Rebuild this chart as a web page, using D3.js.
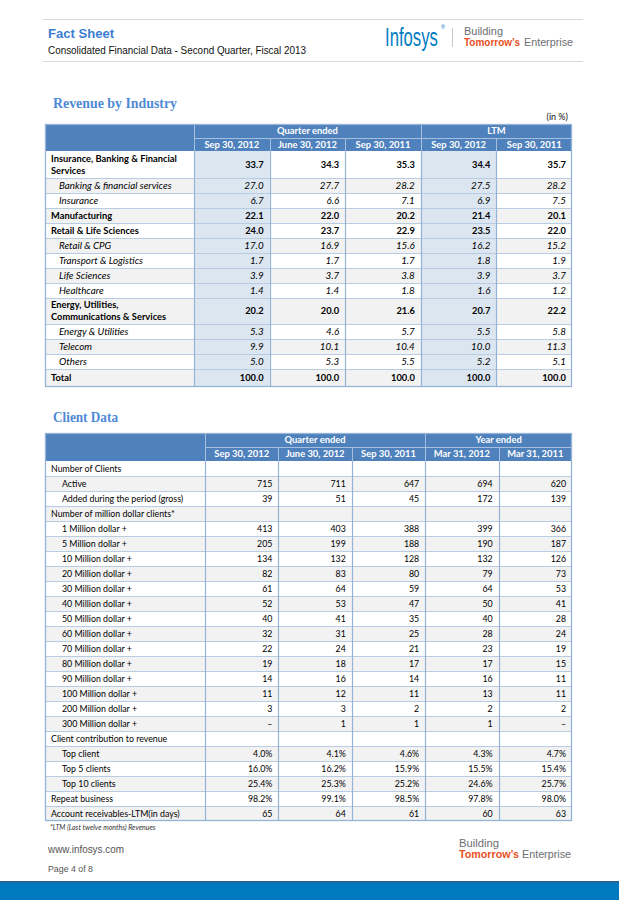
<!DOCTYPE html>
<html><head><meta charset="utf-8">
<script src="https://cdn.jsdelivr.net/npm/d3@7/dist/d3.min.js"></script>
<style>body{margin:0;background:#fff}svg{display:block}</style>
</head><body><svg id="c" width="619" height="900"></svg>
<script>
// ---------- DATA ----------
const revGroups = ["Quarter ended", "LTM"];
const revGroupSpan = [3, 2];
const revPeriods = ["Sep 30, 2012", "June 30, 2012", "Sep 30, 2011", "Sep 30, 2012", "Sep 30, 2011"];
const revRows = [
  "Insurance, Banking & Financial|Services", "Banking & financial services", "Insurance",
  "Manufacturing", "Retail & Life Sciences", "Retail & CPG", "Transport & Logistics",
  "Life Sciences", "Healthcare", "Energy, Utilities,|Communications & Services",
  "Energy & Utilities", "Telecom", "Others", "Total"];
const revRowKind = ["main","sub","sub","main","main","sub","sub","sub","sub","main","sub","sub","sub","main"];
const revQSep2012 = [33.7, 27.0, 6.7, 22.1, 24.0, 17.0, 1.7, 3.9, 1.4, 20.2, 5.3, 9.9, 5.0, 100.0];
const revQJun2012 = [34.3, 27.7, 6.6, 22.0, 23.7, 16.9, 1.7, 3.7, 1.4, 20.0, 4.6, 10.1, 5.3, 100.0];
const revQSep2011 = [35.3, 28.2, 7.1, 20.2, 22.9, 15.6, 1.7, 3.8, 1.8, 21.6, 5.7, 10.4, 5.5, 100.0];
const revLTMSep2012 = [34.4, 27.5, 6.9, 21.4, 23.5, 16.2, 1.8, 3.9, 1.6, 20.7, 5.5, 10.0, 5.2, 100.0];
const revLTMSep2011 = [35.7, 28.2, 7.5, 20.1, 22.0, 15.2, 1.9, 3.7, 1.2, 22.2, 5.8, 11.3, 5.1, 100.0];

const cliGroups = ["Quarter ended", "Year ended"];
const cliGroupSpan = [3, 2];
const cliPeriods = ["Sep 30, 2012", "June 30, 2012", "Sep 30, 2011", "Mar 31, 2012", "Mar 31, 2011"];
const cliRows = [
  "Number of Clients", "Active", "Added during the period (gross)", "Number of million dollar clients*",
  "1 Million dollar +", "5 Million dollar +", "10 Million dollar +", "20 Million dollar +",
  "30 Million dollar +", "40 Million dollar +", "50 Million dollar +", "60 Million dollar +",
  "70 Million dollar +", "80 Million dollar +", "90 Million dollar +", "100 Million dollar +",
  "200 Million dollar +", "300 Million dollar +", "Client contribution to revenue",
  "Top client", "Top 5 clients", "Top 10 clients", "Repeat business", "Account receivables-LTM(in days)"];
const cliRowKind = ["main","sub","sub","main","sub","sub","sub","sub","sub","sub","sub","sub","sub","sub","sub","sub","sub","sub","main","sub","sub","sub","main","main"];
const cliQSep2012 = ["", "715", "39", "", "413", "205", "134", "82", "61", "52", "40", "32", "22", "19", "14", "11", "3", "–", "", "4.0%", "16.0%", "25.4%", "98.2%", "65"];
const cliQJun2012 = ["", "711", "51", "", "403", "199", "132", "83", "64", "53", "41", "31", "24", "18", "16", "12", "3", "1", "", "4.1%", "16.2%", "25.3%", "99.1%", "64"];
const cliQSep2011 = ["", "647", "45", "", "388", "188", "128", "80", "59", "47", "35", "25", "21", "17", "14", "11", "2", "1", "", "4.6%", "15.9%", "25.2%", "98.5%", "61"];
const cliYMar2012 = ["", "694", "172", "", "399", "190", "132", "79", "64", "50", "40", "28", "23", "17", "16", "13", "2", "1", "", "4.3%", "15.5%", "24.6%", "97.8%", "60"];
const cliYMar2011 = ["", "620", "139", "", "366", "187", "126", "73", "53", "41", "28", "24", "19", "15", "11", "11", "2", "–", "", "4.7%", "15.4%", "25.7%", "98.0%", "63"];

// ---------- DRAW ----------
const svg = d3.select("#c");
const TF = "Lato, 'Open Sans', sans-serif";
const AF = "'Liberation Sans', Arial, sans-serif";
const HEAD = "#4F81BD", LINE = "#95B3D7", HLINE = "#B8CCE4", ZEBRA = "#F2F2F2", SHADE = "#DCE6F1";

function txt(x, y, s, o) {
  const t = svg.append("text").attr("x", x).attr("y", y).attr("font-family", o.font || AF)
    .attr("font-size", o.size).attr("fill", o.fill || "#000").text(s);
  if (o.bold) t.attr("font-weight", "bold");
  if (o.italic) t.attr("font-style", "italic");
  if (o.w) t.attr("textLength", o.w).attr("lengthAdjust", "spacingAndGlyphs");
  if (o.anchor) t.attr("text-anchor", o.anchor);
  return t;
}

// page header
svg.append("line").attr("x1",43).attr("x2",583).attr("y1",19.5).attr("y2",19.5).attr("stroke","#D9D9D9");
svg.append("line").attr("x1",43).attr("x2",583).attr("y1",61.5).attr("y2",61.5).attr("stroke","#D9D9D9");
txt(48, 38, "Fact Sheet", {size: 13, bold: true, fill: "#3B7DD0", w: 66});
txt(48, 53.5, "Consolidated Financial Data - Second Quarter, Fiscal 2013", {size: 10, fill: "#111", w: 258});
svg.append("text").attr("transform","translate(385,45.5) scale(1,1.55)").attr("font-family",AF)
  .attr("font-size",16.7).attr("fill","#007CC3").text("Infosys");
txt(441, 29, "®", {size: 5.5, fill: "#007CC3"});
svg.append("line").attr("x1",452.5).attr("x2",452.5).attr("y1",28).attr("y2",47).attr("stroke","#C8C8C8");
function tagline(x, y1, y2, size, wB, wT, xE, wE) {
  txt(x, y1, "Building", {size, fill: "#6D6E71", w: wB});
  txt(x, y2, "Tomorrow’s", {size, fill: "#E8501E", bold: true, w: wT});
  txt(xE, y2, "Enterprise", {size, fill: "#6D6E71", w: wE});
}
tagline(464, 35, 46.3, 10, 39, 56, 524, 49);

// section titles
function title(s, y, w) {
  txt(53, y, s, {font: "'Liberation Serif', 'DejaVu Serif', serif", size: 14.5, bold: true, fill: "#4F8AD6", w});
}
title("Revenue by Industry", 108, 124);
title("Client Data", 422, 65);
txt(568, 120, "(in %)", {font: TF, size: 9, fill: "#111", anchor: "end"});

function drawTable(cfg) {
  const g = svg.append("g");
  const nCol = cfg.periods.length;
  const x = d3.scaleBand().domain(d3.range(nCol)).range([cfg.labelRight, cfg.right]);
  const units = cfg.rowUnits;
  const cum = [0]; units.forEach(u => cum.push(cum[cum.length-1] + u));
  const yU = d3.scaleLinear().domain([0, cum[cum.length-1]]).range([cfg.bodyTop, cfg.bottom]);
  const rowTop = i => yU(cum[i]), rowBot = i => yU(cum[i+1]);

  g.append("rect").attr("x",cfg.left).attr("y",cfg.headTop).attr("width",cfg.right-cfg.left)
    .attr("height",cfg.bodyTop-cfg.headTop).attr("fill",HEAD);
  g.selectAll("rect.row").data(cfg.rows).join("rect").attr("class","row")
    .attr("x",cfg.left).attr("y",(d,i)=>rowTop(i)).attr("width",cfg.right-cfg.left)
    .attr("height",(d,i)=>rowBot(i)-rowTop(i)).attr("fill",(d,i)=> i%2 ? ZEBRA : "#fff");
  (cfg.shadeCols||[]).forEach(c => {
    g.append("rect").attr("x",x(c)).attr("y",cfg.bodyTop).attr("width",x.bandwidth())
      .attr("height",cfg.bottom-cfg.bodyTop).attr("fill",SHADE);
  });
  g.selectAll("line.h").data(d3.range(1, cfg.rows.length)).join("line").attr("class","h")
    .attr("x1",cfg.left).attr("x2",cfg.right).attr("y1",i=>Math.round(rowTop(i))+0.5).attr("y2",i=>Math.round(rowTop(i))+0.5)
    .attr("stroke",HLINE).attr("stroke-width",1);
  g.selectAll("line.v").data(d3.range(0, nCol)).join("line").attr("class","v")
    .attr("x1",c=>Math.round(x(c))+0.5).attr("x2",c=>Math.round(x(c))+0.5)
    .attr("y1",cfg.bodyTop).attr("y2",cfg.bottom).attr("stroke",LINE).attr("stroke-width",1.2);
  const hl = "#A7BFDE";
  g.append("line").attr("x1",cfg.labelRight).attr("x2",cfg.right).attr("y1",cfg.headMid+0.5).attr("y2",cfg.headMid+0.5)
    .attr("stroke",hl);
  let start = 0;
  cfg.groups.forEach((gname, gi) => {
    const span = cfg.groupSpan[gi];
    const x0 = x(start), x1 = x(start+span-1) + x.bandwidth();
    g.append("line").attr("x1",Math.round(x0)+0.5).attr("x2",Math.round(x0)+0.5)
      .attr("y1",cfg.headTop).attr("y2",cfg.bodyTop).attr("stroke",hl);
    g.append("text").attr("x",(x0+x1)/2).attr("y",(cfg.headTop+cfg.headMid)/2+3.3)
      .attr("text-anchor","middle").attr("font-family",TF).attr("font-weight","bold")
      .attr("font-size",9.4).attr("fill","#fff").text(gname);
    for (let c = start+1; c < start+span; c++) {
      g.append("line").attr("x1",Math.round(x(c))+0.5).attr("x2",Math.round(x(c))+0.5)
        .attr("y1",cfg.headMid).attr("y2",cfg.bodyTop).attr("stroke",hl);
    }
    start += span;
  });
  g.selectAll("text.per").data(cfg.periods).join("text").attr("class","per")
    .attr("x",(d,i)=>x(i)+x.bandwidth()/2).attr("y",(cfg.headMid+cfg.bodyTop)/2+3.3)
    .attr("text-anchor","middle").attr("font-family",TF).attr("font-weight","bold")
    .attr("font-size",9.4).attr("fill","#fff").text(d=>d);
  g.append("rect").attr("x",cfg.left+0.5).attr("y",cfg.headTop+0.5).attr("width",cfg.right-cfg.left-1)
    .attr("height",cfg.bottom-cfg.headTop-1).attr("fill","none").attr("stroke",LINE).attr("stroke-width",1.3);

  cfg.rows.forEach((lab, i) => {
    const kind = cfg.kinds[i];
    const lines = lab.split("|");
    const cy = (rowTop(i)+rowBot(i))/2;
    const bold = cfg.styled && kind === "main", ital = cfg.styled && kind === "sub";
    const size = ital ? cfg.subSize : cfg.fontSize;
    const lx = cfg.left + (kind === "sub" ? cfg.subIndent : 6);
    const t = g.append("text").attr("font-family",TF).attr("font-size",size).attr("fill","#000")
      .attr("font-weight", bold ? "bold" : "normal").attr("font-style", ital ? "italic" : "normal");
    lines.forEach((ln, k) => {
      t.append("tspan").attr("x", lx).attr("y", cy + 3.2 + (k - (lines.length-1)/2) * 12).text(ln);
    });
    cfg.series.forEach((s, c) => {
      g.append("text").attr("x", x(c)+x.bandwidth()-6).attr("y", cy+3.2).attr("text-anchor","end")
        .attr("font-family",TF).attr("font-size",size).attr("fill","#000")
        .attr("font-weight", bold ? "bold" : "normal").attr("font-style", ital ? "italic" : "normal")
        .text(cfg.fmt(s[i]));
    });
  });
}

drawTable({
  left: 45, labelRight: 194, right: 572, headTop: 124, headMid: 138, bodyTop: 151, bottom: 387,
  rowUnits: [27,15,15,15,15,15,15,15,15,26,15,15,15,18],
  rows: revRows, kinds: revRowKind, groups: revGroups, groupSpan: revGroupSpan, periods: revPeriods,
  series: [revQSep2012, revQJun2012, revQSep2011, revLTMSep2012, revLTMSep2011],
  fmt: d3.format(".1f"), shadeCols: [0, 3], styled: true, subIndent: 14, fontSize: 9.3, subSize: 9.8
});

drawTable({
  left: 45, labelRight: 205, right: 572, headTop: 433, headMid: 447, bodyTop: 461, bottom: 821,
  rowUnits: cliRows.map(() => 1),
  rows: cliRows, kinds: cliRowKind, groups: cliGroups, groupSpan: cliGroupSpan, periods: cliPeriods,
  series: [cliQSep2012, cliQJun2012, cliQSep2011, cliYMar2012, cliYMar2011],
  fmt: d => d, shadeCols: [], styled: false, subIndent: 17, fontSize: 8.8, subSize: 8.8
});

txt(50, 830, "*LTM (Last twelve months) Revenues", {font: TF, italic: true, size: 7, fill: "#333"});

// footer
txt(48, 852.5, "www.infosys.com", {size: 10, fill: "#555", w: 76});
txt(48, 872, "Page 4 of 8", {size: 8.5, fill: "#555", w: 45});
tagline(459, 846.5, 858.2, 10.3, 40, 60, 522, 49);
svg.append("rect").attr("x",0).attr("y",881).attr("width",619).attr("height",19).attr("fill","#0079C1");
svg.append("rect").attr("x",0).attr("y",881).attr("width",619).attr("height",1.5).attr("fill","#2E5E8C");
</script></body></html>
